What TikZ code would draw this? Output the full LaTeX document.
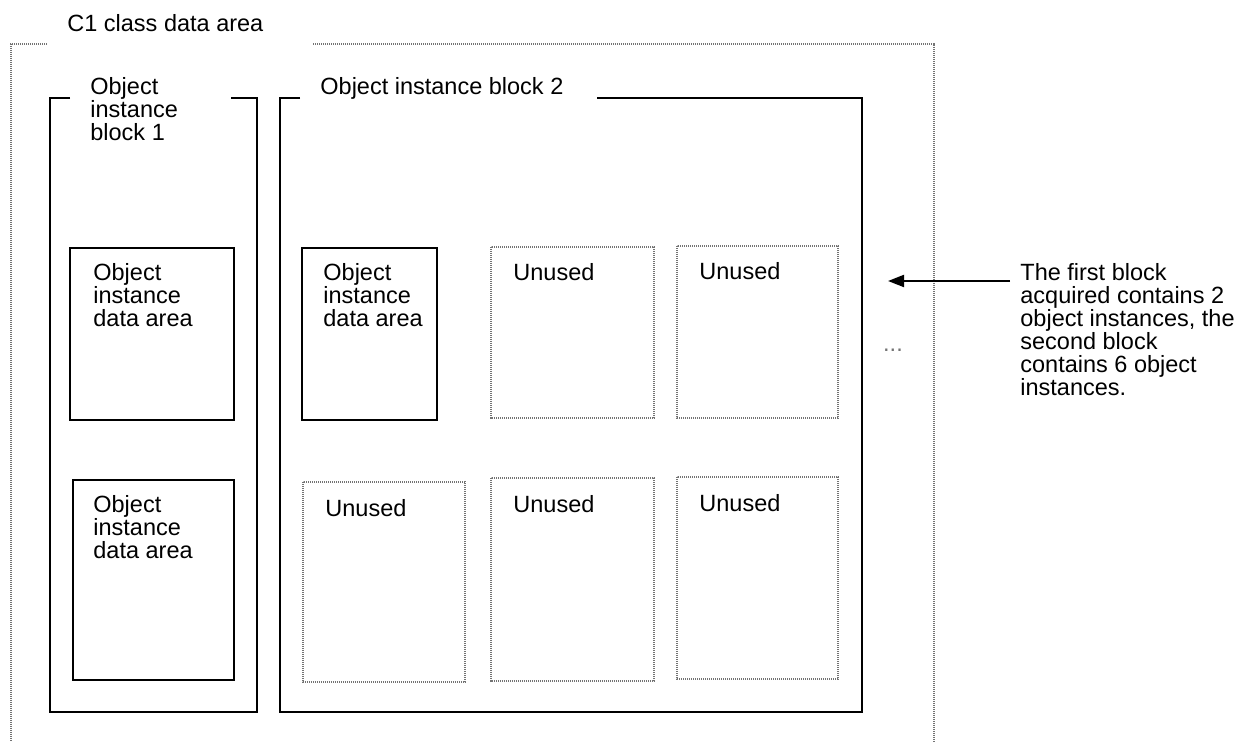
\documentclass[tikz,border=0pt]{standalone}
\usepackage{fontspec}
\setmainfont{Liberation Sans}
\usetikzlibrary{arrows.meta, positioning}
\definecolor{dotgray}{RGB}{115,115,115}
\tikzset{
  solidbox/.style={draw=black, line width=1pt},
  dotbox/.style={draw=dotgray, line width=0.7pt, dash pattern=on 0.6pt off 0.4pt},
  lbl/.style={anchor=north west, inner sep=0pt, align=left,
    font=\fontsize{11.75}{11.5}\selectfont},
  arrow/.style={-{Triangle[length=8pt, width=6pt]}, line width=1pt}
}
\begin{document}
\begin{tikzpicture}[x=0.5pt, y=-0.5pt]
  \useasboundingbox (0,0) rectangle (1244,742);
  % Class data area (open at the bottom)
  \draw[dotbox] (47,44) -- (11,44) -- (11,742);
  \draw[dotbox] (313,44) -- (934,44) -- (934,742);
  \node[lbl] (areatitle) at (67,14) {C1 class data area};

  % Block 1
  \draw[solidbox] (70,98) -- (50,98) -- (50,712) -- (257,712) -- (257,98) -- (231,98);
  \node[lbl] (blkonetitle) at (90,77) {Object\\instance\\block 1};
  \draw[solidbox] (70,248) rectangle (234,420);
  \node[lbl] (instA) at (93,263) {Object\\instance\\data area};
  \draw[solidbox] (73,480) rectangle (234,680);
  \node[lbl] (instB) at (93,495) {Object\\instance\\data area};

  % Block 2
  \draw[solidbox] (300,98) -- (280,98) -- (280,712) -- (862,712) -- (862,98) -- (597,98);
  \node[lbl] (blktwotitle) at (320,77) {Object instance block 2};
  \draw[solidbox] (302,248) rectangle (437,420);
  \node[lbl] (instC) at (323,263) {Object\\instance\\data area};
  \draw[dotbox] (491,247) rectangle (654,418);
  \node[lbl] (unusedA) at (513,263) {Unused};
  \draw[dotbox] (677,246) rectangle (838,418);
  \node[lbl] (unusedB) at (699,262) {Unused};
  \draw[dotbox] (303,482) rectangle (465,682);
  \node[lbl] (unusedC) at (325,499) {Unused};
  \draw[dotbox] (491,478) rectangle (654,681);
  \node[lbl] (unusedD) at (513,495) {Unused};
  \draw[dotbox] (677,477) rectangle (838,679);
  \node[lbl] (unusedE) at (699,494) {Unused};

  % More blocks and note
  \node[font=\fontsize{11.75}{11.5}\selectfont, text=dotgray, inner sep=0pt] (more) at (893,350) {...};
  \node[lbl] (note) at (1020,263) {The first block\\acquired contains 2\\object instances, the\\second block\\contains 6 object\\instances.};
  \coordinate (arrtail) at (1010,281);
  \coordinate (arrtip) at (888,281);
  \draw[arrow] (arrtail) -- (arrtip);
\end{tikzpicture}
\end{document}
